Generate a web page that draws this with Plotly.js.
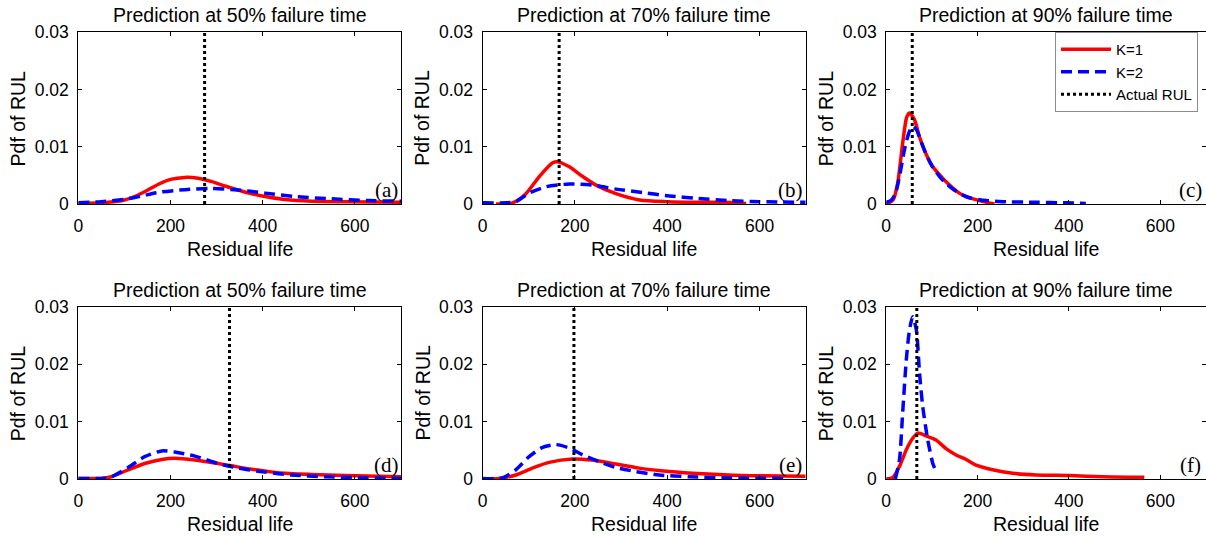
<!DOCTYPE html>
<html>
<head>
<meta charset="utf-8">
<script src="https://cdn.plot.ly/plotly-3.0.1.min.js"></script>
<style>html,body{margin:0;padding:0;background:#fff;}#chart{width:1206px;height:537px;}</style>
</head>
<body>
<div id="chart"></div>
<script>
// ---------- data ----------
const panelTitles = ["Prediction at 50% failure time", "Prediction at 70% failure time", "Prediction at 90% failure time",
                     "Prediction at 50% failure time", "Prediction at 70% failure time", "Prediction at 90% failure time"];
const panelLabels = ["(a)", "(b)", "(c)", "(d)", "(e)", "(f)"];
const seriesNames = ["K=1", "K=2", "Actual RUL"];
const xTicks = [0, 200, 400, 600];
const yTicks = [0, 0.01, 0.02, 0.03];
const yTickText = ["0", "0.01", "0.02", "0.03"];

// (a)
const aK1x = [0, 50, 100, 125, 150, 175, 200, 231, 260, 290, 320, 361, 405, 448, 506, 578, 700];
const aK1y = [0.0001, 0.0002, 0.0007, 0.0014, 0.0024, 0.0035, 0.0043, 0.00465, 0.0045, 0.0039, 0.0031, 0.0021, 0.0013, 0.0008, 0.0005, 0.0004, 0.0003];
const aK2x = [0, 50, 100, 137, 180, 231, 289, 339, 405, 469, 549, 628, 700];
const aK2y = [0.0002, 0.0004, 0.0008, 0.0014, 0.0021, 0.0025, 0.0027, 0.0025, 0.0019, 0.0013, 0.0009, 0.0006, 0.0005];
const aRUL = 274;
// (b)
const bK1x = [29, 65, 94, 123, 152, 162, 188, 217, 246, 289, 340, 400, 460, 520, 571];
const bK1y = [0, 0.0002, 0.0018, 0.0048, 0.0072, 0.0074, 0.0065, 0.0048, 0.0033, 0.0018, 0.0007, 0.0004, 0.0003, 0.0003, 0.0001];
const bK2x = [0, 50, 72, 101, 137, 188, 238, 289, 347, 405, 462, 534, 600, 700];
const bK2y = [0.0002, 0.0002, 0.0004, 0.0019, 0.0030, 0.0035, 0.0033, 0.0026, 0.0020, 0.0014, 0.0010, 0.0006, 0.0004, 0.0003];
const bRUL = 166;
// (c)
const cK1x = [0, 15, 25, 36, 45, 51, 62, 73, 88, 102, 117, 131, 146, 160, 175, 204, 237];
const cK1y = [0, 0.0007, 0.0036, 0.0106, 0.0152, 0.0159, 0.0147, 0.0117, 0.0086, 0.0065, 0.0051, 0.0039, 0.0028, 0.0019, 0.0013, 0.0006, 0];
const cK2x = [0, 10, 20, 29, 40, 50, 58, 66, 75, 88, 102, 117, 131, 146, 164, 182, 219, 255, 328, 394, 437];
const cK2y = [0.0003, 0.0006, 0.0018, 0.0048, 0.0095, 0.0125, 0.0136, 0.0130, 0.0112, 0.0086, 0.0064, 0.0048, 0.0036, 0.0026, 0.0017, 0.0011, 0.0006, 0.0004, 0.0003, 0.0002, 0.0001];
const cRUL = 57;
// (d)
const dK1x = [0, 50, 72, 108, 144, 181, 209, 253, 303, 332, 376, 433, 505, 578, 700];
const dK1y = [0.0001, 0.0001, 0.0004, 0.0016, 0.0027, 0.0034, 0.0036, 0.0033, 0.0027, 0.0023, 0.0017, 0.0011, 0.0008, 0.0006, 0.0004];
const dK2x = [0, 50, 72, 108, 144, 181, 209, 253, 303, 347, 405, 462, 534, 614, 700];
const dK2y = [0.0001, 0.0001, 0.0004, 0.0020, 0.0039, 0.0049, 0.0047, 0.0040, 0.0027, 0.0019, 0.0012, 0.0007, 0.0004, 0.0002, 0.0001];
const dRUL = 328;
// (e)
const eK1x = [0, 36, 72, 108, 144, 195, 238, 289, 339, 405, 477, 563, 700];
const eK1y = [0, 0.0001, 0.0007, 0.0019, 0.0029, 0.0035, 0.0033, 0.0026, 0.0019, 0.0013, 0.0009, 0.0006, 0.0005];
const eK2x = [0, 43, 72, 101, 130, 159, 188, 217, 253, 289, 332, 383, 448, 520, 660];
const eK2y = [0.0001, 0.0002, 0.0016, 0.0039, 0.0055, 0.0060, 0.0054, 0.0042, 0.0030, 0.0020, 0.0013, 0.0007, 0.0004, 0.0002, 0.0001];
const eRUL = 198;
// (f)
const fK1x = [0, 15, 29, 44, 58, 69, 88, 109, 131, 153, 175, 197, 233, 277, 328, 401, 474, 565];
const fK1y = [0, 0.0003, 0.0022, 0.0051, 0.0071, 0.0080, 0.0075, 0.0068, 0.0053, 0.0042, 0.0034, 0.0024, 0.0016, 0.0010, 0.0007, 0.0006, 0.0004, 0.0003];
const fK2x = [20, 29, 36, 44, 51, 58, 66, 73, 80, 91, 102, 106];
const fK2y = [0, 0.0033, 0.0115, 0.0208, 0.0260, 0.0283, 0.0260, 0.0184, 0.0126, 0.0068, 0.0027, 0.0019];
const fRUL = 67;

const xRange = [0, 700];
const yRange = [0, 0.03];

// ---------- build ----------
const panels = [
  {k1x: aK1x, k1y: aK1y, k2x: aK2x, k2y: aK2y, rul: aRUL},
  {k1x: bK1x, k1y: bK1y, k2x: bK2x, k2y: bK2y, rul: bRUL},
  {k1x: cK1x, k1y: cK1y, k2x: cK2x, k2y: cK2y, rul: cRUL},
  {k1x: dK1x, k1y: dK1y, k2x: dK2x, k2y: dK2y, rul: dRUL},
  {k1x: eK1x, k1y: eK1y, k2x: eK2x, k2y: eK2y, rul: eRUL},
  {k1x: fK1x, k1y: fK1y, k2x: fK2x, k2y: fK2y, rul: fRUL}
];

const W = 1206, H = 537;
const colPx = [[78.3, 401], [482.5, 805.7], [886.2, 1206]];
const rowPx = [[32.3, 204], [307, 479]];

const FONT = "Liberation Sans, Arial, Helvetica, sans-serif";
const SERIF = "Liberation Serif, Times New Roman, serif";

const traces = [];
const layout = {
  width: W, height: H,
  margin: {l: 0, r: 0, t: 0, b: 0, pad: 0},
  paper_bgcolor: "#fff", plot_bgcolor: "#fff",
  font: {family: FONT, color: "#000"},
  showlegend: true,
  legend: {
    x: 1055 / W, y: 1 - 32 / H, xanchor: "left", yanchor: "top",
    bgcolor: "#fff", bordercolor: "#8c8c8c", borderwidth: 1,
    font: {family: FONT, size: 15, color: "#000"},
    tracegroupgap: 0, itemwidth: 50
  },
  annotations: []
};

panels.forEach((p, i) => {
  const n = i + 1;
  const xa = n === 1 ? "x" : "x" + n;
  const ya = n === 1 ? "y" : "y" + n;
  const col = i % 3, row = Math.floor(i / 3);
  const xd = [colPx[col][0] / W, Math.min(1, colPx[col][1] / W)];
  const yd = [1 - rowPx[row][1] / H, 1 - rowPx[row][0] / H];
  const axBase = {
    showgrid: false, zeroline: false, showline: true, linecolor: "#000", linewidth: 1,
    mirror: "ticks", ticks: "inside", ticklen: 4, tickcolor: "#000", tickwidth: 1,
    tickfont: {family: FONT, size: 17.5, color: "#000"}, fixedrange: true
  };
  layout[(n === 1 ? "xaxis" : "xaxis" + n)] = Object.assign({}, axBase, {
    domain: xd, anchor: ya, range: xRange, tickmode: "array", tickvals: xTicks,
    ticklabelstandoff: 6
  });
  layout[(n === 1 ? "yaxis" : "yaxis" + n)] = Object.assign({}, axBase, {
    domain: yd, anchor: xa, range: yRange, tickmode: "array", tickvals: yTicks, ticktext: yTickText,
    ticklabelstandoff: 5
  });

  traces.push({
    type: "scatter", mode: "lines", x: p.k1x, y: p.k1y, xaxis: xa, yaxis: ya,
    name: seriesNames[0], legendgroup: "k1", showlegend: i === 2,
    line: {color: "#ff0000", width: 3.5, shape: "spline", smoothing: 0.7},
    hoverinfo: "skip"
  });
  traces.push({
    type: "scatter", mode: "lines", x: p.k2x, y: p.k2y, xaxis: xa, yaxis: ya,
    name: seriesNames[1], legendgroup: "k2", showlegend: i === 2,
    line: {color: "#0000ff", width: 3.5, dash: "11px,6px", shape: "spline", smoothing: 0.7},
    hoverinfo: "skip"
  });
  traces.push({
    type: "scatter", mode: "lines", x: [p.rul, p.rul], y: yRange, xaxis: xa, yaxis: ya,
    name: seriesNames[2], legendgroup: "rul", showlegend: i === 2,
    line: {color: "#000", width: 3, dash: "dot"},
    hoverinfo: "skip"
  });

  // subplot title
  layout.annotations.push({
    text: panelTitles[i], xref: xa + " domain", yref: ya + " domain", x: 0.5, y: 1,
    xanchor: "center", yanchor: "middle", yshift: 17, showarrow: false,
    font: {family: FONT, size: 19.5, color: "#000"}
  });
  // x-axis title
  layout.annotations.push({
    text: "Residual life", xref: xa + " domain", yref: ya + " domain", x: 0.5, y: 0,
    xanchor: "center", yanchor: "middle", yshift: -45, showarrow: false,
    font: {family: FONT, size: 19.5, color: "#000"}
  });
  // y-axis title
  layout.annotations.push({
    text: "Pdf of RUL", xref: xa + " domain", yref: ya + " domain", x: 0, y: 0.5,
    xanchor: "center", yanchor: "middle", xshift: -60, textangle: -90, showarrow: false,
    font: {family: FONT, size: 19.5, color: "#000"}
  });
  // panel label
  layout.annotations.push({
    text: panelLabels[i], xref: xa + " domain", yref: ya + " domain", x: 1, y: 0,
    xanchor: "center", yanchor: "middle", xshift: col === 2 ? -16 : -15, yshift: 14, showarrow: false,
    font: {family: SERIF, size: 21, color: "#000"}
  });
});

Plotly.newPlot("chart", traces, layout, {staticPlot: true, displayModeBar: false});
</script>
</body>
</html>
